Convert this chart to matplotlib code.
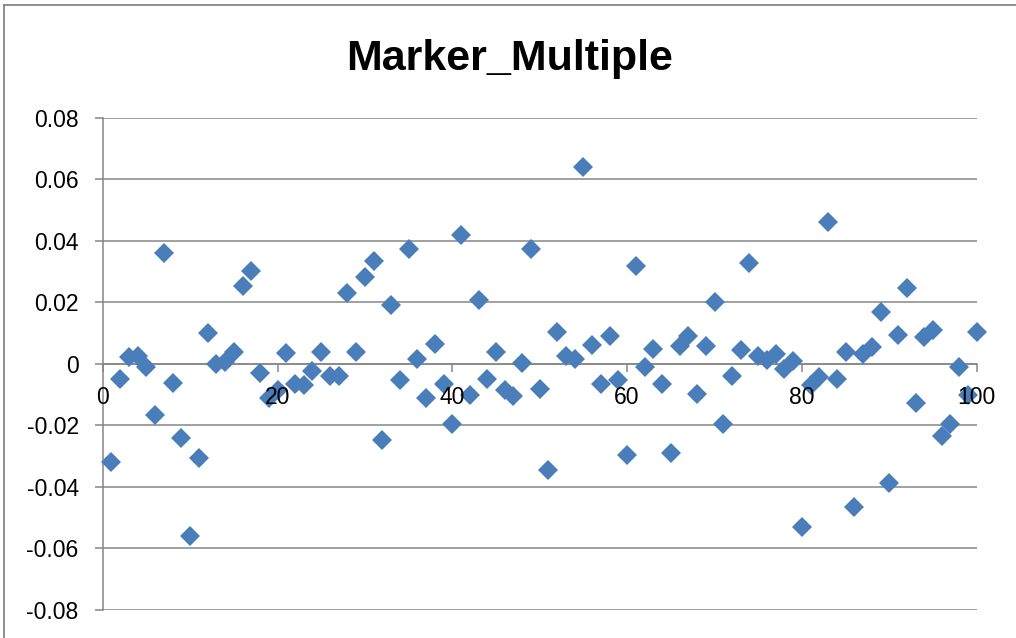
import matplotlib
matplotlib.use("Agg")
import matplotlib.pyplot as plt
from matplotlib.lines import Line2D

plt.rcParams['font.family'] = ['Liberation Sans', 'DejaVu Sans']

# Sample index and measured values
x_values = list(range(1, 101))
y_values = [
    -0.0318, -0.0050, 0.0021, 0.0024, -0.0009, -0.0165, 0.0359, -0.0063, -0.0240, -0.0559,
    -0.0307, 0.0099, 0.0000, 0.0007, 0.0037, 0.0254, 0.0302, -0.0030, -0.0112, -0.0085,
    0.0035, -0.0065, -0.0069, -0.0022, 0.0038, -0.0041, -0.0041, 0.0230, 0.0037, 0.0282,
    0.0333, -0.0249, 0.0191, -0.0052, 0.0373, 0.0017, -0.0112, 0.0065, -0.0066, -0.0195,
    0.0420, -0.0101, 0.0206, -0.0050, 0.0037, -0.0085, -0.0106, 0.0002, 0.0374, -0.0082,
    -0.0345, 0.0102, 0.0027, 0.0015, 0.0640, 0.0060, -0.0066, 0.0092, -0.0052, -0.0296,
    0.0317, -0.0009, 0.0048, -0.0065, -0.0291, 0.0059, 0.0089, -0.0098, 0.0059, 0.0201,
    -0.0195, -0.0039, 0.0044, 0.0327, 0.0024, 0.0013, 0.0033, -0.0017, 0.0008, -0.0531,
    -0.0068, -0.0044, 0.0461, -0.0048, 0.0040, -0.0464, 0.0033, 0.0056, 0.0168, -0.0386,
    0.0094, 0.0246, -0.0126, 0.0087, 0.0111, -0.0234, -0.0195, -0.0009, -0.0101, 0.0105,
]

x_ticks = [0, 20, 40, 60, 80, 100]
x_tick_labels = ["0", "20", "40", "60", "80", "100"]
y_ticks = [0.08, 0.06, 0.04, 0.02, 0.0, -0.02, -0.04, -0.06, -0.08]
y_tick_labels = ["0.08", "0.06", "0.04", "0.02", "0", "-0.02", "-0.04", "-0.06", "-0.08"]

title = "Marker_Multiple"

W, H = 1016, 638
GRID = "#868686"
BLUE = "#4A7EBB"

fig = plt.figure(figsize=(W / 100, H / 100), dpi=100)
fig.patch.set_facecolor("white")

left, right = 102.7 / W, 976.7 / W
top, bottom = 1 - 117.7 / H, 1 - 610.0 / H
ax = fig.add_axes([left, bottom, right - left, top - bottom])

ax.plot(x_values, y_values, linestyle="none", marker="D", markersize=9.8,
        markeredgewidth=0, color=BLUE, zorder=3, clip_on=False)

ax.set_xlim(0, 100)
ax.set_ylim(-0.08, 0.08)

ax.set_xticks(x_ticks)
ax.set_xticklabels(x_tick_labels)
ax.set_yticks(y_ticks)
ax.set_yticklabels(y_tick_labels)

# Horizontal gridlines drawn beneath the markers
ax.set_axisbelow(True)
ax.yaxis.grid(True, color=GRID, linewidth=1.1)
ax.xaxis.grid(False)

# Spines: vertical axis at x=0, horizontal axis through y=0
for side in ("top", "right"):
    ax.spines[side].set_visible(False)
ax.spines["bottom"].set_position(("data", 0))
for side in ("left", "bottom"):
    ax.spines[side].set_color(GRID)
    ax.spines[side].set_linewidth(1.1)
    ax.spines[side].set_zorder(0.5)

ax.tick_params(axis="both", direction="out", length=5.8, width=1.1, color=GRID,
               labelsize=16.5, labelcolor="black")
ax.tick_params(axis="y", pad=11.5)
ax.tick_params(axis="x", pad=10)
# Category labels of the horizontal axis sit above the markers
ax.xaxis.set_zorder(5)

fig.text(510 / W, 1 - 70 / H, title, ha="center", va="baseline",
         fontsize=31, fontweight="bold", color="black")

# Chart area frame (left and top edges)
fig.add_artist(Line2D([4 / W, 4 / W], [0, 1 - 5 / H], transform=fig.transFigure,
                      color=GRID, linewidth=1.3))
fig.add_artist(Line2D([4 / W, 1], [1 - 5 / H, 1 - 5 / H], transform=fig.transFigure,
                      color=GRID, linewidth=1.3))

fig.savefig("out.png", dpi=100, facecolor="white")
